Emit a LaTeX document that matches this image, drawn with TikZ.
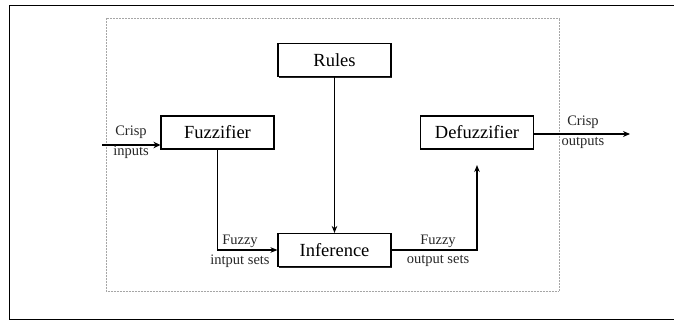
\documentclass[tikz,border=0pt]{standalone}
\usepackage{fontspec}
\setmainfont{Liberation Serif}
\usetikzlibrary{arrows.meta,shadows}
\begin{document}
\begin{tikzpicture}[x=1pt,y=-1pt,
  blk/.style={draw=black,line width=1.1pt,fill=white,minimum width=113pt,minimum height=33pt,inner sep=0pt,
    font=\fontsize{18.5}{20}\selectfont,
    drop shadow={shadow xshift=0.6pt,shadow yshift=-1.4pt,fill=black,opacity=0.85}},
  lbl/.style={font=\fontsize{14.5}{15}\selectfont,text=black!85,inner sep=0pt},
  conn/.style={line width=1.2pt,-{Stealth[length=7pt,width=5.5pt]}},
  thick conn/.style={line width=2.4pt,-{Stealth[length=7pt,width=6.5pt]}}]
\useasboundingbox (0,0) rectangle (674,320);
% outer frame
\draw[line width=1.3pt] (674,5.5) -- (9.5,5.5) -- (9.5,319.2) -- (674,319.2);
% inner dotted frame
\draw[gray!70,densely dotted,line width=0.5pt] (106,18) rectangle (559,291);
% blocks
\node[blk] (rules) at (334.5,60) {Rules};
\node[blk] (fuzz) at (217.5,132.5) {Fuzzifier};
\node[blk] (defuzz) at (477,132.5) {Defuzzifier};
\node[blk] (inf) at (334.5,250) {Inference};
% free ends
\coordinate (in) at (102,145);
\coordinate (out) at (630,134);
\coordinate (dtip) at (477,165);
% connectors
\draw[thick conn] (in) -- (in -| fuzz.west);
\draw[conn] (fuzz.south) |- (inf.west);
\draw[conn] (rules.south) -- (inf.north);
\draw[conn] (inf.east) -| (dtip);
\draw[line width=1.8pt,-{Stealth[length=7pt,width=6pt]}] (defuzz.east |- out) -- (out);
% labels
\node[lbl] (l1) at (131,132) {Crisp};
\node[lbl] (l2) at (131,152) {inputs};
\node[lbl] (l3) at (240,241) {Fuzzy};
\node[lbl] (l4) at (240,261) {intput sets};
\node[lbl] (l5) at (438,241) {Fuzzy};
\node[lbl] (l6) at (438,261) {output sets};
\node[lbl] (l7) at (583,122) {Crisp};
\node[lbl] (l8) at (583,143) {outputs};
\end{tikzpicture}
\end{document}
